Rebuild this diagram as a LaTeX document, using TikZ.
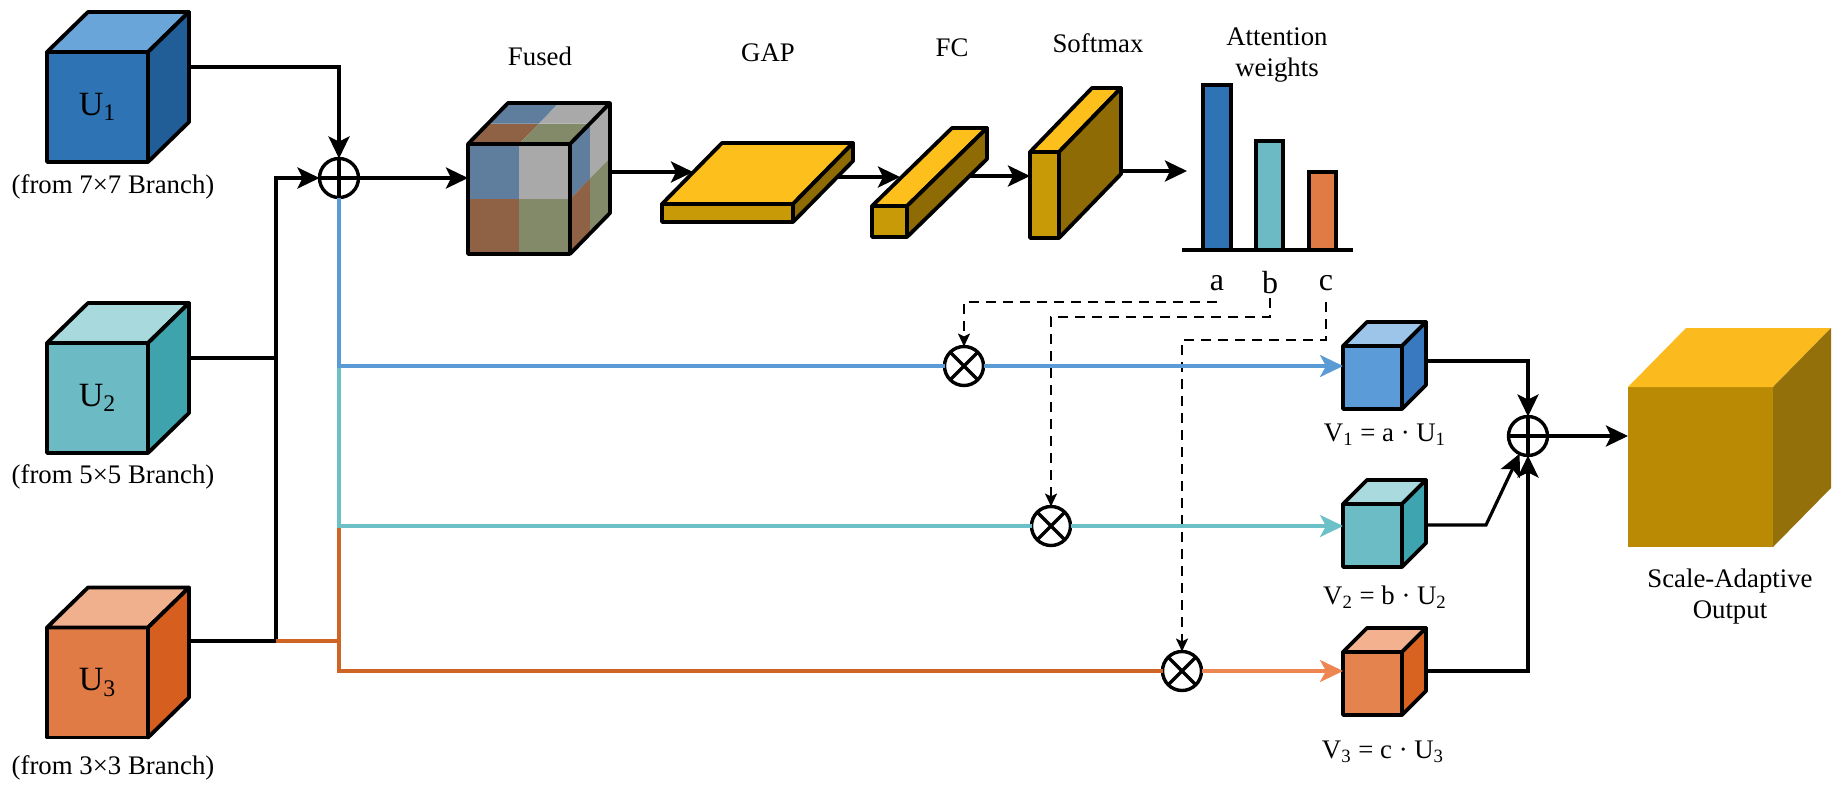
\documentclass[tikz,border=0pt]{standalone}
\usepackage{fontspec}
\setmainfont{Liberation Serif}
\usetikzlibrary{arrows.meta}
\definecolor{cAf}{HTML}{2E74B5}\definecolor{cAt}{HTML}{6AA5DA}\definecolor{cAs}{HTML}{215E98}
\definecolor{cBf}{HTML}{6CBBC4}\definecolor{cBt}{HTML}{A8D9DC}\definecolor{cBs}{HTML}{3FA3AE}
\definecolor{cCf}{HTML}{E07B45}\definecolor{cCt}{HTML}{F0B08E}\definecolor{cCs}{HTML}{D65E1E}
\definecolor{cDf}{HTML}{5B9BD7}\definecolor{cDt}{HTML}{9DC4E9}\definecolor{cDs}{HTML}{3979BF}
\definecolor{cEf}{HTML}{6CBCC5}\definecolor{cEt}{HTML}{A9DADD}\definecolor{cEs}{HTML}{3EA4AF}
\definecolor{cFf}{HTML}{E5834F}\definecolor{cFt}{HTML}{F3B18F}\definecolor{cFs}{HTML}{D8621F}
\definecolor{gf}{HTML}{C89A08}\definecolor{gt}{HTML}{FDBF1C}\definecolor{gs}{HTML}{8F6B06}
\definecolor{of}{HTML}{BA8A05}\definecolor{ot}{HTML}{FBBB1F}\definecolor{os}{HTML}{94700A}
\definecolor{fz1}{HTML}{5F7E9E}\definecolor{fz2}{HTML}{A9A9A9}\definecolor{fz3}{HTML}{8F6246}\definecolor{fz4}{HTML}{838A6A}
\definecolor{lnB}{HTML}{5B9BD5}\definecolor{lnT}{HTML}{6CC0C7}\definecolor{lnO}{HTML}{CF6424}\definecolor{lnO2}{HTML}{EE8652}

\newcommand{\mycube}[9]{%
  \node[cubefront, fill=#8f, minimum width=#4*0.5pt, minimum height=#5*0.5pt] (#1) at (#2,#3) {#9};
  \filldraw[cubeface, fill=#8t] (#1.north west) -- ++(#6,#7) -- ++(#4,0) -- (#1.north east) -- cycle;
  \filldraw[cubeface, fill=#8s] (#1.north east) -- ++(#6,#7) -- ++(0,#5) -- (#1.south east) -- cycle;
}

\begin{document}
\begin{tikzpicture}[x=0.5pt,y=-0.5pt,
  cubefront/.style={draw=black, line width=1.9pt, inner sep=0pt, outer sep=0pt, line join=round,
     font=\fontsize{17}{20}\selectfont},
  cubeface/.style={draw=black, line width=1.9pt, line join=round},
  lbl/.style={font=\fontsize{13.4}{15.5}\selectfont, inner sep=0pt},
  abc/.style={font=\fontsize{16}{18}\selectfont, inner sep=0pt},
  conn/.style={line width=1.6pt},
  arr/.style={conn, -{Stealth[length=11pt,width=10.5pt,inset=2.5pt]}},
  lineB/.style={line width=1.6pt, draw=lnB},
  lineT/.style={line width=1.6pt, draw=lnT},
  lineO/.style={line width=1.6pt, draw=lnO},
  arrB/.style={lineB, -{Stealth[length=11.5pt,width=11pt,inset=3pt]}},
  arrT/.style={lineT, -{Stealth[length=11.5pt,width=11pt,inset=3pt]}},
  arrO/.style={line width=1.6pt, draw=lnO2, -{Stealth[length=11.5pt,width=11pt,inset=3pt]}},
  dsh/.style={line width=1.15pt, dash pattern=on 5pt off 3.5pt, -{Stealth[length=6.5pt,width=6pt,inset=1.5pt]}},
  opnode/.style={circle, draw, line width=1.7pt, minimum size=19.5pt, inner sep=0pt, outer sep=0pt, fill=white},
  opline/.style={line width=1.7pt},
  barst/.style={draw=black, line width=1.9pt}
]
\useasboundingbox (0,0) rectangle (1844,794);
\fill[white] (0,0) rectangle (1844,794);

% ---------- input cubes ----------
\mycube{u1}{97.5}{107}{101}{110}{41}{-40}{cA}{U\textsubscript{1}}
\mycube{u2}{97.5}{398}{101}{110}{41}{-40}{cB}{U\textsubscript{2}}
\mycube{u3}{97.5}{682.5}{101}{110}{41}{-40}{cC}{U\textsubscript{3}}
\node[lbl] (t1) at (113,187) {(from 7×7 Branch)};
\node[lbl] (t2) at (113,477) {(from 5×5 Branch)};
\node[lbl] (t3) at (113,768) {(from 3×3 Branch)};

% ---------- fused cube ----------
\node[inner sep=0pt, outer sep=0pt, minimum width=51pt, minimum height=55pt] (fused) at (519,199) {};
\fill[fz1] (468,144) rectangle (519,199);
\fill[fz2] (519,144) rectangle (570,199);
\fill[fz3] (468,199) rectangle (519,254);
\fill[fz4] (519,199) rectangle (570,254);
\fill[fz3] (468,144) -- (519,144) -- (539,123.5) -- (488,123.5) -- cycle;
\fill[fz4] (519,144) -- (570,144) -- (590,123.5) -- (539,123.5) -- cycle;
\fill[fz1] (488,123.5) -- (539,123.5) -- (559,103) -- (508,103) -- cycle;
\fill[fz2] (539,123.5) -- (590,123.5) -- (610,103) -- (559,103) -- cycle;
\fill[fz1] (570,144) -- (590,123.5) -- (590,178.5) -- (570,199) -- cycle;
\fill[fz3] (570,199) -- (590,178.5) -- (590,233.5) -- (570,254) -- cycle;
\fill[fz2] (590,123.5) -- (610,103) -- (610,158) -- (590,178.5) -- cycle;
\fill[fz4] (590,178.5) -- (610,158) -- (610,213) -- (590,233.5) -- cycle;
\draw[line width=1.9pt, line join=round] (fused.north west) rectangle (fused.south east);
\draw[line width=1.9pt, line join=round] (fused.north west) -- ++(40,-41) -- ++(102,0) -- (fused.north east)
   (fused.north east) ++(40,-41) -- ++(0,110) -- (fused.south east);
\node[lbl] (tf) at (540,56) {Fused};

% ---------- GAP, FC, Softmax ----------
\mycube{gap}{727.5}{213}{131}{18}{60}{-61}{g}{}
\mycube{fc}{889.5}{221.5}{35}{31}{80}{-78}{g}{}
\mycube{sm}{1044.5}{195}{29}{86}{62}{-64}{g}{}
\node[lbl] (tg) at (768,53) {GAP};
\node[lbl] (tfc) at (952,48) {FC};
\node[lbl] (tsm) at (1098,43) {Softmax};

% ---------- attention weights ----------
\node[lbl, align=center] (taw) at (1277,55) {Attention\\weights};
\filldraw[barst, fill=cAf] (1203,250) rectangle (1231,85);
\filldraw[barst, fill=cBf] (1256,250) rectangle (1283,141);
\filldraw[barst, fill=cCf] (1309,250) rectangle (1336,172);
\draw[line width=1.9pt] (1182,250) -- (1353,250);
\node[abc] (la) at (1217,283) {a};
\node[abc] (lb) at (1270,283) {b};
\node[abc] (lc) at (1326,283) {c};

% ---------- V cubes & output ----------
\mycube{v1}{1372.5}{377.5}{59}{63}{24}{-24}{cD}{}
\mycube{v2}{1372.5}{535.5}{59}{63}{24}{-24}{cE}{}
\mycube{v3}{1372.5}{683.5}{59}{63}{24}{-24}{cF}{}
\node[lbl] (tv1) at (1385,435) {V\textsubscript{1} = a · U\textsubscript{1}};
\node[lbl] (tv2) at (1385,597) {V\textsubscript{2} = b · U\textsubscript{2}};
\node[lbl] (tv3) at (1383,752) {V\textsubscript{3} = c · U\textsubscript{3}};
\begin{scope}[cubefront/.append style={draw=none}, cubeface/.append style={draw=none}]
\mycube{out}{1700.5}{467}{145}{160}{58}{-59}{o}{}
\end{scope}
\node[lbl, align=center] (tout) at (1730,597) {Scale-Adaptive\\Output};

% ---------- operators ----------
\node[opnode] (p1) at (339,178) {};
\node[opnode] (p2) at (1528,436) {};
\node[opnode] (m1) at (964,366) {};
\node[opnode] (m2) at (1051,526) {};
\node[opnode] (m3) at (1182,671) {};

% ---------- coordinates ----------
\coordinate (u1o) at (189,67);
\coordinate (u2o) at (189,358); \coordinate (j2) at (276,358);
\coordinate (u3o) at (189,641); \coordinate (j3) at (276,641);
\coordinate (tb) at (339,366); \coordinate (to) at (339,526); \coordinate (o1) at (339,641);
\coordinate (fo) at (610,172); \coordinate (gi) at (693,172);
\coordinate (go) at (837,177); \coordinate (fi) at (900,177);
\coordinate (fco) at (970,176);
\coordinate (smo) at (1122,171); \coordinate (ci) at (1187,171);
\coordinate (as) at (1217,302);
\coordinate (bs) at (1270,298); \coordinate (bk) at (1270,317);
\coordinate (cs) at (1326,302); \coordinate (ck) at (1326,340);
\coordinate (v1o) at (1426,361);
\coordinate (v2o) at (1426,525); \coordinate (v2k) at (1486,525);
\coordinate (v3o) at (1426,671);

% ---------- left connectors ----------
\draw[arr] (u1o) -| (p1.north);
\draw[conn] (u2o) -- (j2);
\draw[conn] (u3o) -- (j3);
\draw[arr] (j3) |- (p1.west);
\draw[lineO] (j3) -- (o1);
\draw[lineO] (to) |- (m3.west);
\draw[lineT] (tb) -- (to) -- (m2.west);
\draw[lineB] (p1.south) -- (tb) -- (m1.west);

% ---------- top chain ----------
\draw[arr] (p1.east) -- (p1 -| fused.west);
\draw[arr] (fo) -- (gi);
\draw[arr] (go) -- (fi);
\draw[arr] (fco) -- (fco -| sm.west);
\draw[arr] (smo) -- (ci);

% ---------- weights ----------
\draw[dsh] (as) -| (m1.north);
\draw[dsh] (bs) -- (bk) -| (m2.north);
\draw[dsh] (cs) -- (ck) -| (m3.north);

\draw[arrB] (m1.east) -- (m1 -| v1.west);
\draw[arrT] (m2.east) -- (m2 -| v2.west);
\draw[arrO] (m3.east) -- (m3 -| v3.west);

% ---------- right connectors ----------
\draw[arr] (v1o) -| (p2.north);
\draw[arr] (v2o) -- (v2k) -- (p2);
\draw[arr] (v3o) -| (p2.south);
\draw[arr] (p2.east) -- (p2 -| out.west);

% operator glyphs
\draw[opline] (p1.north) -- (p1.south) (p1.west) -- (p1.east);
\draw[opline] (p2.north) -- (p2.south) (p2.west) -- (p2.east);
\foreach \m in {m1,m2,m3} {
  \draw[opline] (\m.45) -- (\m.225) (\m.135) -- (\m.315);
}
\end{tikzpicture}
\end{document}
